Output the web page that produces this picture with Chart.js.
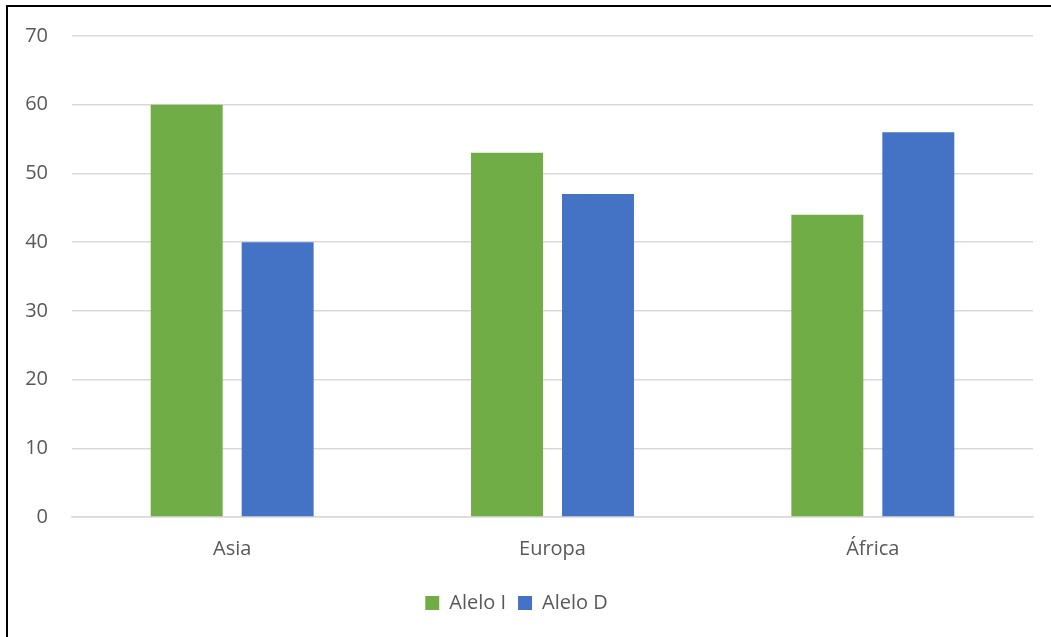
<!DOCTYPE html>
<html>
<head>
<meta charset="utf-8">
<script src="https://cdn.jsdelivr.net/npm/chart.js@4"></script>
<style>
    body { margin: 0; background: #fff; }
    #marco { position: relative; width: 1051px; height: 637px; }
    #borde {
        position: absolute; left: 6px; top: 5px; right: 0; bottom: 0;
        border-left: 2px solid #000; border-top: 2px solid #000;
        pointer-events: none;
    }
</style>
</head>
<body>
<div id="marco">
    <canvas id="grafico" width="1051" height="637"></canvas>
    <div id="borde"></div>
</div>
<script>
const regiones = ['Asia', 'Europa', 'África'];
const aleloI = [60, 53, 44];
const aleloD = [40, 47, 56];
const ticksY = [0, 10, 20, 30, 40, 50, 60, 70];

const fuente = { family: "'Open Sans', 'Noto Sans', sans-serif", size: 20 };
const gris = '#595959';

const ctx = document.getElementById('grafico').getContext('2d');
new Chart(ctx, {
    type: 'bar',
    data: {
        labels: regiones,
        datasets: [{
            label: 'Alelo I',
            data: aleloI,
            backgroundColor: '#70AD47'
        }, {
            label: 'Alelo D',
            data: aleloD,
            backgroundColor: '#4472C4'
        }]
    },
    options: {
        responsive: false,
        animation: false,
        layout: { padding: { top: 35, right: 18, bottom: 14, left: 0 } },
        datasets: {
            bar: { categoryPercentage: 0.568, barPercentage: 0.791 }
        },
        scales: {
            x: {
                grid: { display: false, drawTicks: false },
                border: { color: '#D9D9D9', width: 1.5 },
                ticks: { color: gris, font: fuente, padding: 20 }
            },
            y: {
                min: 0,
                max: 70,
                afterFit: (eje) => { eje.width = 72; },
                afterBuildTicks: (eje) => { eje.ticks = ticksY.map(v => ({ value: v })); },
                grid: { color: '#D9D9D9', lineWidth: 1.5, drawTicks: false },
                border: { display: false },
                ticks: { color: gris, font: fuente, padding: 24 }
            }
        },
        plugins: {
            legend: {
                position: 'bottom',
                padding: 10,
                labels: { color: gris, font: fuente, boxWidth: 14, boxHeight: 14, padding: 12 }
            },
            tooltip: { enabled: false }
        }
    }
});
</script>
</body>
</html>
